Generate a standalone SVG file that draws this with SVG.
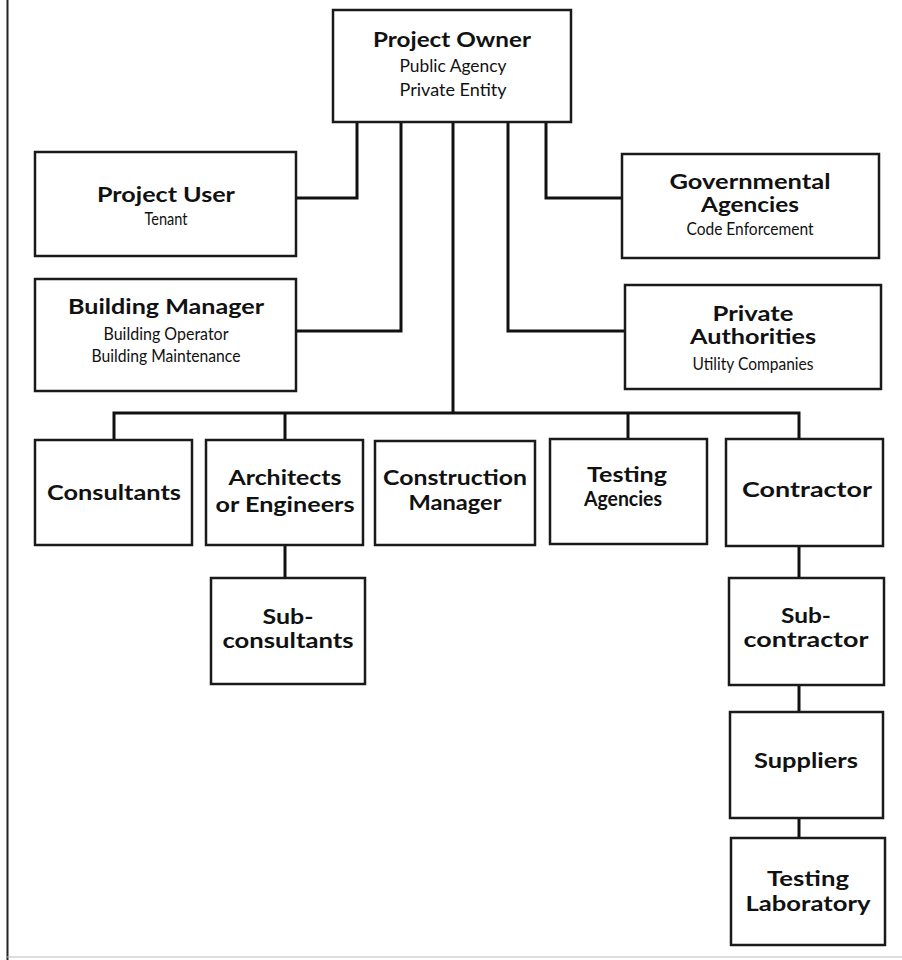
<svg xmlns="http://www.w3.org/2000/svg" width="902" height="960" viewBox="0 0 902 960">
<style>
.box{fill:#fff;stroke:#1a1a1a;stroke-width:2.5}
.c{fill:none;stroke:#111;stroke-width:3}
.t{font-family:Lato,"Open Sans","DejaVu Sans",sans-serif;font-weight:bold;font-size:21px;fill:#111;text-anchor:middle}
.s{font-family:Lato,"Open Sans","DejaVu Sans",sans-serif;font-weight:normal;font-size:17px;fill:#111;text-anchor:middle}
</style>
<rect width="902" height="960" fill="#fff"/>
<line x1="7.5" y1="0" x2="7.5" y2="960" stroke="#222" stroke-width="2"/>
<line x1="7" y1="957" x2="902" y2="957" stroke="#bbb" stroke-width="1"/>
<g id="connectors">
<polyline class="c" points="357,122 357,198 296,198"/>
<polyline class="c" points="401,122 401,331 296,331"/>
<polyline class="c" points="453,122 453,413"/>
<polyline class="c" points="508,122 508,331 625,331"/>
<polyline class="c" points="546,122 546,198 622,198"/>
<polyline class="c" points="114,440 114,413 799,413 799,439"/>
<line class="c" x1="285" y1="413" x2="285" y2="440"/>
<line class="c" x1="628" y1="413" x2="628" y2="439"/>
<line class="c" x1="285" y1="545" x2="285" y2="578"/>
<line class="c" x1="799" y1="546" x2="799" y2="578"/>
<line class="c" x1="799" y1="685" x2="799" y2="712"/>
<line class="c" x1="799" y1="818" x2="799" y2="838"/>
</g>
<g id="project-owner">
<rect class="box" x="333" y="10" width="238" height="112"/>
<text class="t" x="452" y="47" textLength="158" lengthAdjust="spacingAndGlyphs">Project Owner</text>
<text class="s" x="453" y="72" textLength="107" lengthAdjust="spacingAndGlyphs">Public Agency</text>
<text class="s" x="453" y="96" textLength="107" lengthAdjust="spacingAndGlyphs">Private Entity</text>
</g>
<g id="project-user">
<rect class="box" x="35" y="152" width="261" height="104"/>
<text class="t" x="166" y="202" textLength="138" lengthAdjust="spacingAndGlyphs">Project User</text>
<text class="s" x="166" y="225" textLength="43" lengthAdjust="spacingAndGlyphs">Tenant</text>
</g>
<g id="building-manager">
<rect class="box" x="35" y="279" width="261" height="112"/>
<text class="t" x="166" y="314" textLength="196" lengthAdjust="spacingAndGlyphs">Building Manager</text>
<text class="s" x="166" y="340" textLength="125" lengthAdjust="spacingAndGlyphs">Building Operator</text>
<text class="s" x="166" y="362" textLength="149" lengthAdjust="spacingAndGlyphs">Building Maintenance</text>
</g>
<g id="governmental-agencies">
<rect class="box" x="622" y="154" width="257" height="104"/>
<text class="t" x="750" y="189" textLength="161" lengthAdjust="spacingAndGlyphs">Governmental</text>
<text class="t" x="750" y="212" textLength="98" lengthAdjust="spacingAndGlyphs">Agencies</text>
<text class="s" x="750" y="235" textLength="127" lengthAdjust="spacingAndGlyphs">Code Enforcement</text>
</g>
<g id="private-authorities">
<rect class="box" x="625" y="285" width="256" height="104"/>
<text class="t" x="753" y="321" textLength="81" lengthAdjust="spacingAndGlyphs">Private</text>
<text class="t" x="753" y="344" textLength="126" lengthAdjust="spacingAndGlyphs">Authorities</text>
<text class="s" x="753" y="370" textLength="121" lengthAdjust="spacingAndGlyphs">Utility Companies</text>
</g>
<g id="consultants">
<rect class="box" x="35" y="440" width="157" height="105"/>
<text class="t" x="114" y="500" textLength="134" lengthAdjust="spacingAndGlyphs">Consultants</text>
</g>
<g id="architects-engineers">
<rect class="box" x="206" y="440" width="157" height="105"/>
<text class="t" x="285" y="485" textLength="113" lengthAdjust="spacingAndGlyphs">Architects</text>
<text class="t" x="285" y="512" textLength="139" lengthAdjust="spacingAndGlyphs">or Engineers</text>
</g>
<g id="construction-manager">
<rect class="box" x="375" y="441" width="160" height="104"/>
<text class="t" x="455" y="485" textLength="144" lengthAdjust="spacingAndGlyphs">Construction</text>
<text class="t" x="455" y="510" textLength="93" lengthAdjust="spacingAndGlyphs">Manager</text>
</g>
<g id="testing-agencies">
<rect class="box" x="550" y="439" width="157" height="105"/>
<text class="t" x="627" y="482" textLength="80" lengthAdjust="spacingAndGlyphs">Testing</text>
<text class="t" x="623" y="506" textLength="78" lengthAdjust="spacingAndGlyphs">Agencies</text>
</g>
<g id="contractor">
<rect class="box" x="726" y="439" width="157" height="107"/>
<text class="t" x="807" y="497" textLength="130" lengthAdjust="spacingAndGlyphs">Contractor</text>
</g>
<g id="sub-consultants">
<rect class="box" x="211" y="578" width="154" height="106"/>
<text class="t" x="288" y="624" textLength="51" lengthAdjust="spacingAndGlyphs">Sub-</text>
<text class="t" x="288" y="648" textLength="131" lengthAdjust="spacingAndGlyphs">consultants</text>
</g>
<g id="sub-contractor">
<rect class="box" x="729" y="578" width="155" height="107"/>
<text class="t" x="806" y="623" textLength="50" lengthAdjust="spacingAndGlyphs">Sub-</text>
<text class="t" x="806" y="647" textLength="125" lengthAdjust="spacingAndGlyphs">contractor</text>
</g>
<g id="suppliers">
<rect class="box" x="730" y="712" width="153" height="106"/>
<text class="t" x="806" y="768" textLength="104" lengthAdjust="spacingAndGlyphs">Suppliers</text>
</g>
<g id="testing-laboratory">
<rect class="box" x="731" y="838" width="154" height="107"/>
<text class="t" x="808" y="886" textLength="82" lengthAdjust="spacingAndGlyphs">Testing</text>
<text class="t" x="808" y="911" textLength="125" lengthAdjust="spacingAndGlyphs">Laboratory</text>
</g>
</svg>
